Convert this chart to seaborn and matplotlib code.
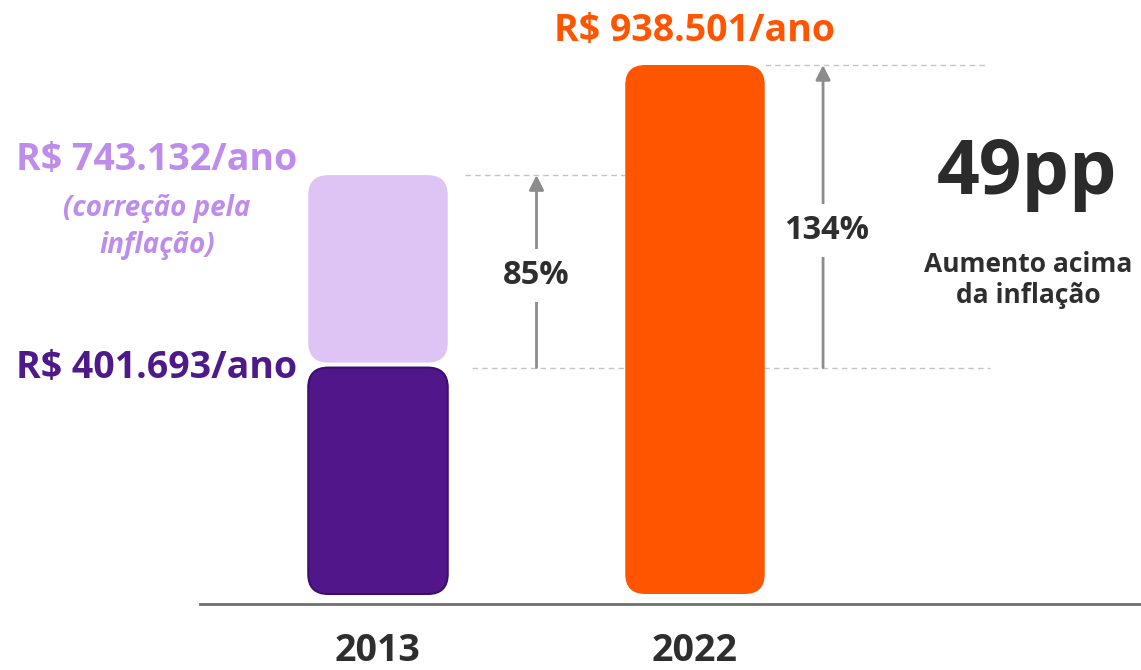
import numpy as np
import pandas as pd
import matplotlib
matplotlib.use("Agg")
import matplotlib.pyplot as plt
import seaborn as sns
from matplotlib.patches import FancyBboxPatch

# data
years = ["2013", "2022"]
nominal = [401693, 938501]
corrected_2013 = 743132
pct_inflation = "85%"
pct_nominal = "134%"
above_inflation = "49pp"

dark_purple = "#52168B"
light_purple = "#DEC4F4"
orange = "#FF5500"
txt_dark = "#2E2E2E"

sns.set_theme(style="white")
plt.rcParams["font.family"] = ["Open Sans", "DejaVu Sans"]
plt.rcParams["font.weight"] = "bold"

fig = plt.figure(figsize=(11.41, 6.70), dpi=100)
ax = fig.add_axes([200 / 1141, 1 - 604 / 670, 941 / 1141, 604 / 670])

df = pd.DataFrame({"ano": years, "valor": nominal})
sns.barplot(data=df, x="ano", y="valor", hue="ano", palette=[dark_purple, orange],
            legend=False, width=0.44, saturation=1, ax=ax)

# axis scale: 938501 spans 529 px, bars float 10 px above the axis line
s = 529 / nominal[1]
ax.set_xlim(-0.5615, 2.407)
ax.set_ylim(-10 / s, 594 / s)

pxx = ax.bbox.width / (ax.get_xlim()[1] - ax.get_xlim()[0])
pxy = ax.bbox.height / (ax.get_ylim()[1] - ax.get_ylim()[0])

# corrected value sits on top of the 2013 bar with a small gap
gap = 5 / pxy
ax.bar(0, corrected_2013 - nominal[0] - gap, bottom=nominal[0] + gap, width=0.44,
       color=light_purple)


def round_bar(p, r_px=20, ec="none", lw=0):
    x, y, w, h = p.get_x(), p.get_y(), p.get_width(), p.get_height()
    fc = p.get_facecolor()
    p.remove()
    box = FancyBboxPatch((x, y), w, h,
                         boxstyle=f"round,pad=0,rounding_size={r_px / pxx}",
                         mutation_aspect=pxx / pxy, fc=fc, ec=ec, lw=lw, zorder=2)
    ax.add_patch(box)


bars = list(ax.patches)
round_bar(bars[0], ec="#3D0F6B", lw=1.5)
round_bar(bars[1])
round_bar(bars[2])

# dashed guides
guide = dict(color="#C4C4C4", lw=1, ls=(0, (4, 3)), zorder=1)
ax.plot([1.221, 1.915], [nominal[1]] * 2, **guide)
ax.plot([0.274, 0.779], [corrected_2013] * 2, **guide)
ax.plot([0.297, 1.93], [nominal[0]] * 2, **guide)

# arrows
arrow = dict(arrowstyle="-|>", color="#8C8C8C", lw=2, mutation_scale=22,
             shrinkA=0, shrinkB=0)
ax.annotate("", xy=(0.5, corrected_2013), xytext=(0.5, nominal[0]), arrowprops=arrow)
ax.annotate("", xy=(1.404, nominal[1]), xytext=(1.404, nominal[0]), arrowprops=arrow)

wbox = dict(fc="white", ec="none", pad=7)
ax.annotate(pct_inflation, xy=(0.5, (corrected_2013 + nominal[0]) / 2),
            xytext=(0, -4), textcoords="offset pixels", ha="center", va="center",
            fontsize=23.5, color=txt_dark, bbox=wbox)
ax.annotate(pct_nominal, xy=(1.404, (nominal[1] + nominal[0]) / 2),
            xytext=(4, -14), textcoords="offset pixels", ha="center", va="center",
            fontsize=23.5, color=txt_dark, bbox=wbox)

# value labels
ax.annotate("R$ 938.501/ano", xy=(1, nominal[1]), xytext=(0, 34),
            textcoords="offset pixels", ha="center", va="center",
            fontsize=27, color=orange)
ax.annotate("R$ 743.132/ano", xy=(0, corrected_2013), xytext=(-221, 15),
            textcoords="offset pixels", ha="center", va="center",
            fontsize=27, color="#BE8CEA", annotation_clip=False)
ax.annotate("(correção pela", xy=(0, corrected_2013), xytext=(-221, -33),
            textcoords="offset pixels", ha="center", va="center",
            fontsize=20, style="italic", color="#BE8CEA", annotation_clip=False)
ax.annotate("inflação)", xy=(0, corrected_2013), xytext=(-221, -70),
            textcoords="offset pixels", ha="center", va="center",
            fontsize=20, style="italic", color="#BE8CEA", annotation_clip=False)
ax.annotate("R$ 401.693/ano", xy=(0, nominal[0]), xytext=(-221, 0),
            textcoords="offset pixels", ha="center", va="center",
            fontsize=27, color="#4E1A8A", annotation_clip=False)

# side note
fig.text(1027 / 1141, 1 - 175 / 670, above_inflation, ha="center", va="center",
         fontsize=54, color="#2B2B2B", fontweight="bold")
fig.text(1028 / 1141, 1 - 280 / 670, "Aumento acima\nda inflação", ha="center",
         va="center", fontsize=19, color=txt_dark, fontweight="bold", linespacing=1.15)

# axes styling
for side in ["top", "right", "left"]:
    ax.spines[side].set_visible(False)
ax.spines["bottom"].set_color("#707070")
ax.spines["bottom"].set_linewidth(2)
ax.set_yticks([])
ax.set_xlabel("")
ax.set_ylabel("")
ax.tick_params(axis="x", length=0, pad=20, labelsize=27, labelcolor=txt_dark)
for lab in ax.get_xticklabels():
    lab.set_fontweight("bold")

fig.savefig("out.png", dpi=100, facecolor="white")
